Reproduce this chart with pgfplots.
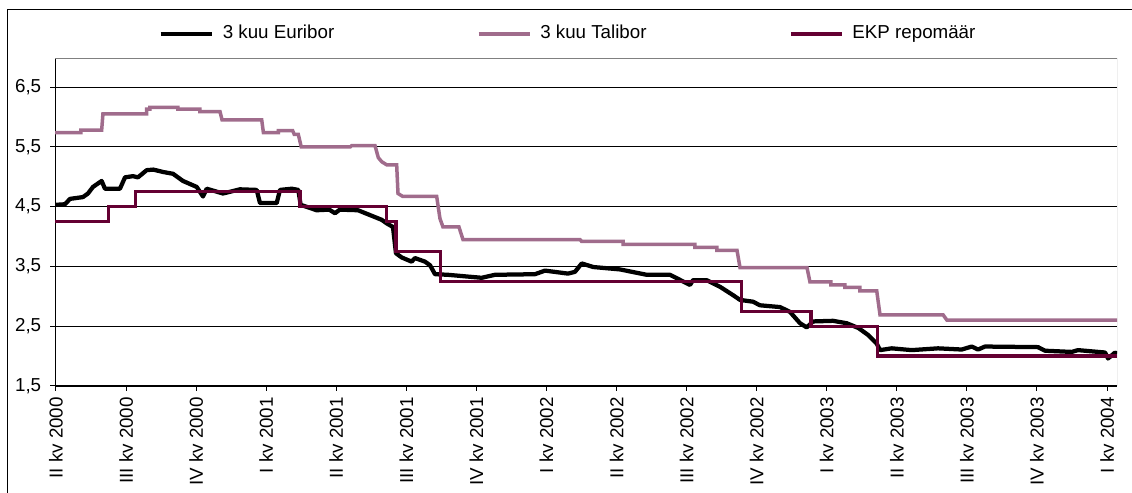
\documentclass[border=0pt]{standalone}
\usepackage{fontspec}
\setmainfont{Liberation Sans}
\usepackage{pgfplots}
\pgfplotsset{compat=1.18}
\definecolor{euri}{RGB}{0,0,0}
\definecolor{tali}{RGB}{160,108,140}
\definecolor{ekp}{RGB}{100,0,50}
\newcommand{\lf}{\fontsize{7.5}{9}\selectfont}
\begin{document}
\begin{tikzpicture}
\useasboundingbox (-22pt,-42.8pt) rectangle (430.8pt,154.4pt);
\draw[line width=0.4pt] (-18.8pt,150.4pt) rectangle (445pt,-50pt);
\begin{axis}[
  at={(0,0)}, anchor=south west,
  scale only axis, width=424.8pt, height=130.8pt,
  xmin=-0.014, xmax=15.142, ymin=1.5, ymax=6.97,
  axis lines=left, axis line style={-},
  x axis line style={line width=1.1pt},
  y axis line style={line width=0.4pt},
  tick align=outside, major tick length=2pt,
  tick style={black, line width=0.4pt},
  xtick={0,...,15},
  xticklabels={II kv 2000,III kv 2000,IV kv 2000,I kv 2001,II kv 2001,III kv 2001,IV kv 2001,I kv 2002,II kv 2002,III kv 2002,IV kv 2002,I kv 2003,II kv 2003,III kv 2003,IV kv 2003,I kv 2004},
  xticklabel style={rotate=90, anchor=east, font=\lf, inner sep=2.3pt},
  ytick={1.5,2.5,3.5,4.5,5.5,6.5},
  yticklabel style={font=\lf, /pgf/number format/.cd, use comma, fixed, fixed zerofill, precision=1, assume math mode=true},
  ymajorgrids, grid style={black, line width=0.4pt},
  legend columns=3,
  legend style={draw=none, fill=none, font=\lf, inner sep=0pt,
    at={(axis description cs:0.097,1.0765)}, anchor=west,
    /tikz/every even column/.append style={column sep=55pt}},
  legend image code/.code={\draw[#1] (0pt,0pt) -- (20.4pt,0pt); \path (22.0pt,0pt);},
  clip=true,
]
\draw[gray, line width=0.4pt] (axis description cs:0,1) -- (axis description cs:1,1) -- (axis description cs:1,0);
\addplot[euri, line width=1.7pt, line join=round] coordinates {
(-0.014,4.53) (0.128,4.54) (0.200,4.63) (0.385,4.66) (0.457,4.72) (0.528,4.83)
(0.652,4.93) (0.699,4.80) (0.913,4.80) (0.985,4.99) (1.099,5.01) (1.170,4.99)
(1.294,5.11) (1.389,5.12) (1.527,5.08) (1.670,5.05) (1.812,4.93) (2.008,4.83)
(2.098,4.67) (2.151,4.80) (2.383,4.72) (2.626,4.79) (2.864,4.78) (2.911,4.56)
(3.150,4.56) (3.197,4.78) (3.364,4.80) (3.458,4.78) (3.492,4.53) (3.720,4.44)
(3.90,4.45) (3.982,4.39) (4.05,4.45) (4.310,4.44) (4.648,4.28) (4.720,4.22)
(4.809,4.16) (4.852,3.72) (4.934,3.65) (5.076,3.58) (5.123,3.64) (5.266,3.58)
(5.338,3.52) (5.409,3.37) (5.594,3.36) (5.880,3.33) (6.075,3.31) (6.265,3.36)
(6.836,3.37) (6.979,3.43) (7.307,3.38) (7.407,3.41) (7.503,3.55) (7.668,3.49)
(8.049,3.45) (8.430,3.36) (8.763,3.36) (9.048,3.19) (9.091,3.27) (9.286,3.27)
(9.476,3.16) (9.662,3.02) (9.762,2.94) (9.947,2.91) (10.047,2.85) (10.333,2.82)
(10.475,2.74) (10.618,2.55) (10.714,2.48) (10.804,2.58) (11.089,2.59) (11.285,2.55)
(11.451,2.47) (11.594,2.35) (11.713,2.21) (11.760,2.10) (11.927,2.13) (12.212,2.10)
(12.588,2.13) (12.926,2.11) (13.069,2.16) (13.159,2.11) (13.258,2.16) (14.015,2.15)
(14.115,2.09) (14.496,2.07) (14.585,2.10) (14.971,2.06) (15.014,1.96) (15.114,2.06)
(15.142,2.04)};
\addlegendentry{3 kuu Euribor}
\addplot[tali, line width=1.4pt] coordinates {
(-0.014,5.74) (0.357,5.74) (0.357,5.78) (0.652,5.78) (0.67,6.05) (1.294,6.05)
(1.294,6.13) (1.341,6.13) (1.341,6.16) (1.741,6.16) (1.741,6.13) (2.055,6.13)
(2.055,6.09) (2.341,6.09) (2.37,5.95) (2.936,5.95) (2.96,5.74) (3.173,5.74)
(3.173,5.77) (3.378,5.77) (3.40,5.71) (3.458,5.71) (3.50,5.50) (4.20,5.50)
(4.22,5.52) (4.553,5.52) (4.60,5.32) (4.65,5.25) (4.72,5.20) (4.862,5.20)
(4.881,4.72) (4.95,4.67) (5.433,4.67) (5.48,4.30) (5.523,4.16) (5.751,4.16)
(5.808,3.95) (7.478,3.95) (7.50,3.92) (8.092,3.92) (8.092,3.87) (9.119,3.87)
(9.119,3.82) (9.433,3.82) (9.433,3.77) (9.719,3.77) (9.762,3.48) (10.718,3.48)
(10.76,3.24) (11.06,3.24) (11.06,3.19) (11.26,3.19) (11.26,3.15) (11.474,3.15)
(11.474,3.09) (11.713,3.09) (11.76,2.69) (12.66,2.69) (12.716,2.60) (15.142,2.60)};
\addlegendentry{3 kuu Talibor}
\addplot[ekp, line width=1.35pt] coordinates {
(-0.014,4.25) (0.746,4.25) (0.746,4.5) (1.137,4.5) (1.137,4.75) (3.482,4.75)
(3.482,4.5) (4.720,4.5) (4.720,4.25) (4.852,4.25) (4.852,3.75) (5.490,3.75)
(5.490,3.25) (9.786,3.25) (9.786,2.75) (10.775,2.75) (10.775,2.5) (11.721,2.5)
(11.721,2.0) (15.142,2.0)};
\addlegendentry{EKP repomäär}
\end{axis}
\end{tikzpicture}
\end{document}
